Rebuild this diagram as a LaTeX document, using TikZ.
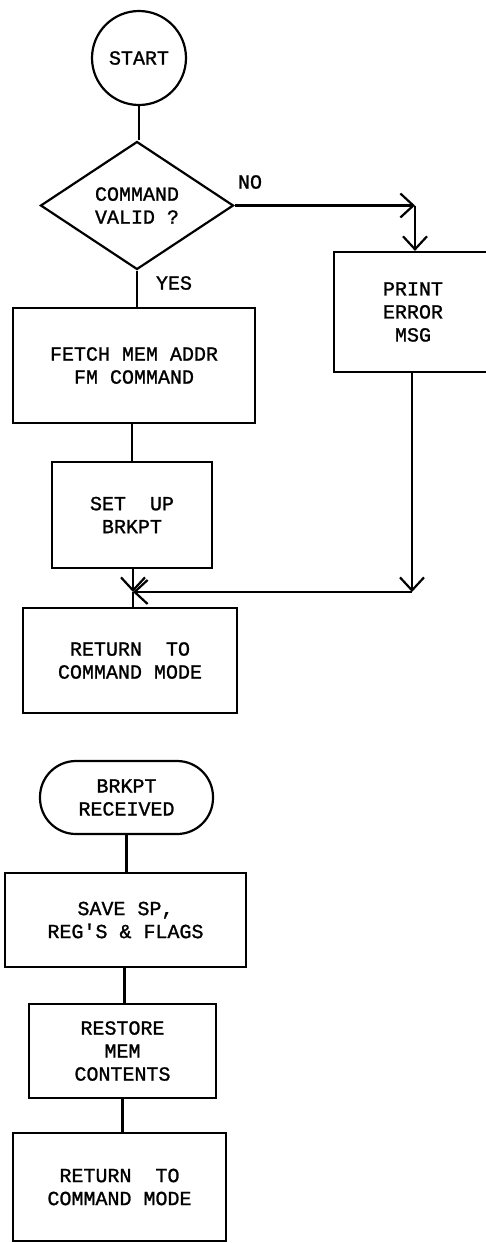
\documentclass[tikz,border=0pt]{standalone}
\usepackage{fontspec}
\setmonofont[FakeBold=1.2]{Liberation Mono}
\usetikzlibrary{shapes.geometric,arrows.meta}

\begin{document}
\begin{tikzpicture}[x=1pt,y=-1pt,
  txt/.style={font=\ttfamily\fontsize{20}{23}\selectfont, align=center, inner sep=0pt},
  box/.style={txt, draw, rectangle, line width=2.2pt},
  term/.style={txt, draw, circle, line width=2.2pt},
  pill/.style={txt, draw, rectangle, rounded corners=36pt, line width=2.2pt},
  decision/.style={txt, draw, diamond, line width=2.2pt},
  link/.style={line width=2.2pt},
  flow/.style={line width=2.2pt, -{Straight Barb[length=13pt,width=24pt]}}
]
\fill[white] (0,0) rectangle (486,1243);
\useasboundingbox (0,0) rectangle (486,1243);

% --- command entry ---
\node[term, minimum size=94pt] (start) at (139,58) {START};
\node[decision, minimum width=193pt, minimum height=128pt] (valid) at (137,205.5) {COMMAND\\VALID ?};
\node[txt] (nolbl) at (250,182) {NO};
\node[txt] (yeslbl) at (174,283) {YES};
\node[box, minimum width=242pt, minimum height=115pt] (fetch) at (134,365.5) {FETCH MEM ADDR\\FM COMMAND};
\node[box, minimum width=160pt, minimum height=106pt] (setup) at (132,515) {SET\ \ UP\\BRKPT};
\node[box, minimum width=158pt, minimum height=120pt] (err) at (413,312) {PRINT\\ERROR\\MSG};
\node[box, minimum width=214pt, minimum height=105pt] (ret1) at (130,660.5) {RETURN\ \ TO\\COMMAND MODE};

\coordinate (noturn) at (valid.east -| 415,0);
\coordinate (join) at (133,592);
\coordinate (errturn) at (412,592);

\draw[link] (start.south) -- (start.south |- valid.north);
\draw[link] (valid.south) -- (valid.south |- fetch.north);
\draw[flow] (valid.east) -- (noturn);
\draw[flow] (noturn) -- (noturn |- err.north);
\draw[link] (fetch.south -| setup.north) -- (setup.north);
\draw[flow] (setup.south -| join) -- (join);
\draw[flow] (err.south -| errturn) -- (errturn);
\draw[flow] (errturn) -- (join);
\draw[link] (join) -- (join |- ret1.north);

% --- breakpoint service ---
\node[pill, minimum width=173pt, minimum height=73pt] (brk) at (126.5,797.5) {BRKPT\\RECEIVED};
\node[box, minimum width=241pt, minimum height=94pt] (save) at (125.5,920) {SAVE SP,\\REG'S \& FLAGS};
\node[box, minimum width=187pt, minimum height=94pt] (restore) at (122.5,1051) {RESTORE\\MEM\\CONTENTS};
\node[box, minimum width=213pt, minimum height=108pt] (ret2) at (119.5,1187) {RETURN\ \ TO\\COMMAND MODE};

\draw[link] (brk.south) -- (brk.south |- save.north);
\draw[link] ([xshift=2pt]restore.north |- save.south) -- ([xshift=2pt]restore.north);
\draw[link] (restore.south) -- (restore.south |- ret2.north);
\end{tikzpicture}
\end{document}
